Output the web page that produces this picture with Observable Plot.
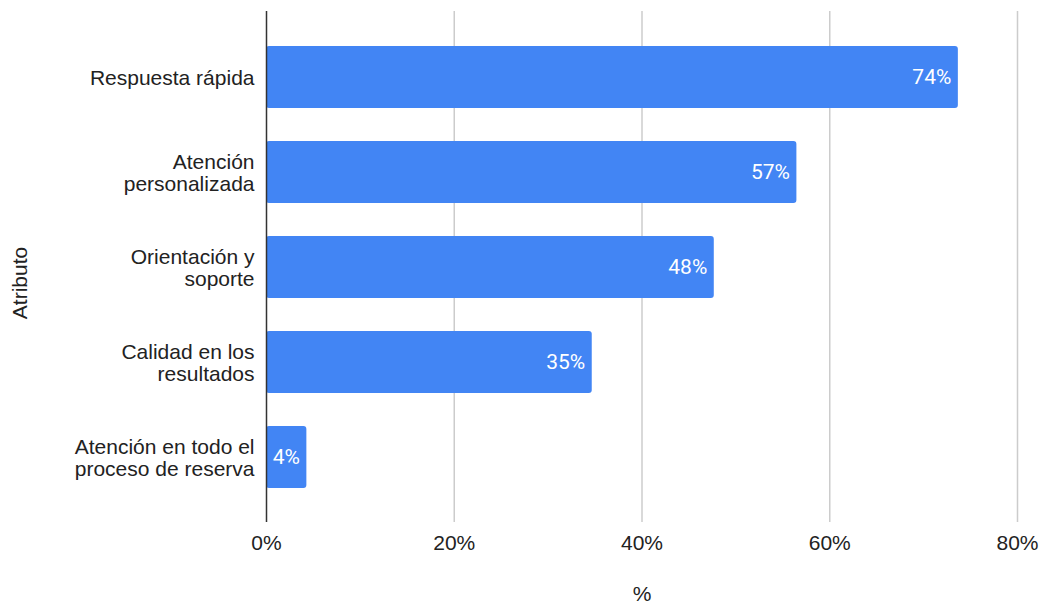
<!DOCTYPE html>
<html>
<head>
<meta charset="utf-8">
<script src="https://cdn.jsdelivr.net/npm/d3@7"></script>
<script src="https://cdn.jsdelivr.net/npm/@observablehq/plot@0.6"></script>
<style>
  html, body { margin: 0; padding: 0; background: #fff; }
  #chart svg { display: block; }
</style>
</head>
<body>
<div id="chart"></div>
<script>
const categories = [
  "Respuesta rápida",
  "Atención\npersonalizada",
  "Orientación y\nsoporte",
  "Calidad en los\nresultados",
  "Atención en todo el\nproceso de reserva"
];
const values = [73.7, 56.5, 47.7, 34.7, 4.3];
const labels = ["74%", "57%", "48%", "35%", "4%"];
const xTicks = [0, 20, 40, 60, 80];

const data = categories.map((c, i) => ({cat: c, value: values[i], label: labels[i]}));

const chart = Plot.plot({
  width: 1041,
  height: 606,
  marginLeft: 266,
  marginRight: 24,
  marginTop: 11,
  marginBottom: 84,
  style: {fontFamily: "Liberation Sans, Arial, sans-serif", fontSize: "21px", color: "#222", background: "#fff"},
  x: {domain: [0, 80], ticks: xTicks, tickFormat: d => d + "%", label: null},
  y: {domain: categories, padding: 0.35, label: null},
  marks: [
    Plot.gridX(xTicks.filter(d => d > 0), {stroke: "#cccccc", strokeOpacity: 1, strokeWidth: 1.5}),
    Plot.barX(data, {y: "cat", x: "value", fill: "#4285f4", rx: 3}),
    Plot.ruleX([0], {stroke: "#333", strokeWidth: 1.5}),
    Plot.text(data, {y: "cat", x: "value", text: "label", fill: "white", textAnchor: "end", dx: -7,
      fontFamily: "Roboto, sans-serif", fontSize: 21}),
    Plot.axisX({ticks: xTicks, tickFormat: d => d + "%", tickSize: 0, tickPadding: 13, fontSize: 21, label: null}),
    Plot.axisY({tickSize: 0, tickPadding: 12, fontSize: 21, lineHeight: 1.05, label: null}),
    Plot.text(["%"], {frameAnchor: "bottom", lineAnchor: "middle", textAnchor: "middle", dy: 72, fontSize: 21, fill: "#222"}),
    Plot.text(["Atributo"], {frameAnchor: "left", lineAnchor: "middle", textAnchor: "middle", dx: -246, dy: 16, rotate: -90, fontSize: 21, fill: "#222"})
  ]
});
document.getElementById("chart").appendChild(chart);
</script>
</body>
</html>
